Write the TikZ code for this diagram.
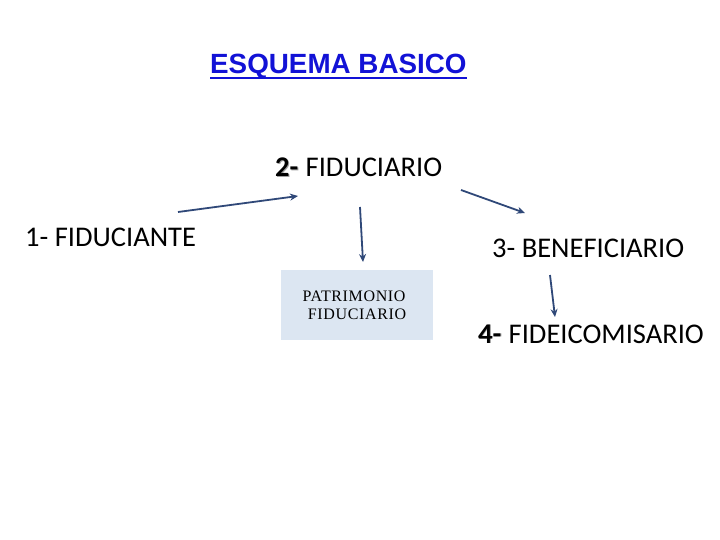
\documentclass[tikz,border=0pt]{standalone}
\usepackage{fontspec}
\setmainfont{Carlito}
\newfontfamily\titlefont{Liberation Sans}
\newfontfamily\boxfont[LetterSpace=4]{Liberation Serif}
\usetikzlibrary{arrows.meta}
\definecolor{arrowblue}{RGB}{47,72,120}
\definecolor{titleblue}{RGB}{18,18,214}
\definecolor{boxfill}{RGB}{220,230,242}
\definecolor{shadowgray}{RGB}{160,160,160}
\tikzset{
  lbl/.style={anchor=base west, inner sep=0pt, font=\fontsize{28.5}{30}\selectfont},
  conn/.style={draw=arrowblue, line width=1.8pt, -{Stealth[length=8pt,width=7pt]}},
  boxtxt/.style={anchor=base, inner sep=0pt, font=\boxfont\fontsize{16}{18}\selectfont},
}
\newcommand{\shnum}[1]{\tikz[baseline=0pt]{\node[anchor=base west,inner sep=0pt,text=shadowgray] at (0.9pt,-0.9pt) {\textbf{#1}};\node[anchor=base west,inner sep=0pt] at (0,0) {\textbf{#1}};}}
\begin{document}
\begin{tikzpicture}[x=1pt,y=-1pt]
\useasboundingbox (0,0) rectangle (720,540);
% title
\node[anchor=base west, inner sep=0pt, text=titleblue, font=\titlefont\bfseries\fontsize{27.8}{30}\selectfont] (title) at (210,74) {ESQUEMA BASICO};
\draw[titleblue, line width=2pt] (title.base west) ++(0,4) coordinate (ul1) -- (title.base east |- ul1);
% labels
\node[lbl] (fiduciante) at (25,246) {1- FIDUCIANTE};
\node[lbl] (fiduciario) at (275,177) {\shnum{2-} FIDUCIARIO};
\node[lbl] (benef) at (492,257) {3- BENEFICIARIO};
\node[lbl] (fideic) at (478,343) {\shnum{4-} FIDEICOMISARIO};
% box
\node[draw=none, fill=boxfill, minimum width=152pt, minimum height=70pt, inner sep=0pt, anchor=north west] (patbox) at (281,270) {};
\node[boxtxt] (pat1) at (354,301) {PATRIMONIO};
\node[boxtxt] (pat2) at (357,319) {FIDUCIARIO};
% arrow endpoints
\coordinate (a1s) at (178,212); \coordinate (a1e) at (298,196);
\coordinate (a2s) at (360,207); \coordinate (a2e) at (363,262);
\coordinate (a3s) at (461,190); \coordinate (a3e) at (525,213);
\coordinate (a4s) at (550,275); \coordinate (a4e) at (555,317);
\draw[conn] (a1s) -- (a1e);
\draw[conn] (a2s) -- (a2e);
\draw[conn] (a3s) -- (a3e);
\draw[conn] (a4s) -- (a4e);
\end{tikzpicture}
\end{document}
